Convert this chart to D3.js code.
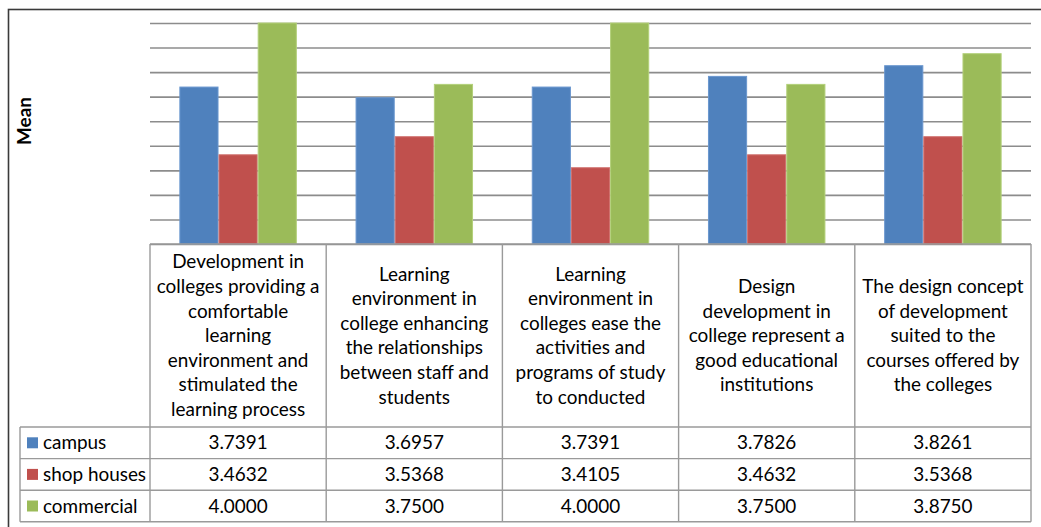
<!DOCTYPE html>
<html><head><meta charset="utf-8">
<script src="https://cdn.jsdelivr.net/npm/d3@7"></script>
<style>body{margin:0;background:#fff}svg{display:block}</style></head>
<body>
<svg id="c" width="1041" height="527"></svg>
<script>
// ---- data ----
const categories = [
  ["Development in","colleges providing a","comfortable","learning","environment and","stimulated the","learning process"],
  ["Learning","environment in","college enhancing","the relationships","between staff and","students"],
  ["Learning","environment in","colleges ease the","activities and","programs of study","to conducted"],
  ["Design","development in","college represent a","good educational","institutions"],
  ["The design concept","of development","suited to the","courses offered by","the colleges"]
];
const seriesNames = ["campus","shop houses","commercial"];
const campus     = [3.7391, 3.6957, 3.7391, 3.7826, 3.8261];
const shopHouses = [3.4632, 3.5368, 3.4105, 3.4632, 3.5368];
const commercial = [4.0000, 3.7500, 4.0000, 3.7500, 3.8750];
const yTicks = [3.1, 3.2, 3.3, 3.4, 3.5, 3.6, 3.7, 3.8, 3.9, 4.0];
const yLabel = "Mean";

// ---- layout / style ----
const colors = ["#4F81BD", "#C0504D", "#9BBB59"];
const strokes = ["#6a97cf", "#cf6f6c", "#b3d07a"];
const FONT = "Lato, 'Open Sans', sans-serif";
const plot = {left: 150, right: 1031, top: 23, bottom: 244};
const tableLeft = 20, headerBottom = 427, rowH = 31.6;

const series = [campus, shopHouses, commercial];
const svg = d3.select("#c");

// fit font size to match reference text width
const probe = svg.append("text").attr("font-family", FONT).attr("font-size", 20).text("Development in");
const fs = 20 * 132 / probe.node().getComputedTextLength();
probe.remove();

// outer frame (extends past right/bottom edges)
svg.append("rect").attr("x", 8.5).attr("y", 9.5).attr("width", 1100).attr("height", 600)
  .attr("fill", "none").attr("stroke", "#3a3a3a").attr("stroke-width", 1.6);

const catIdx = d3.range(categories.length);
const x0 = d3.scaleBand().domain(catIdx).range([plot.left, plot.right]).padding(0);
const x1 = d3.scaleBand().domain(d3.range(series.length)).range([0, x0.bandwidth()])
  .paddingInner(0).paddingOuter(0.75);
const y = d3.scaleLinear().domain([3.1, 4.0]).range([plot.bottom, plot.top]);

// gridlines via axis
const grid = svg.append("g").attr("transform", `translate(${plot.left},0)`)
  .call(d3.axisLeft(y).tickValues(yTicks).tickSize(-(plot.right - plot.left)).tickFormat(""));
grid.select(".domain").remove();
grid.selectAll(".tick line").attr("stroke", "#8c8c8c").attr("stroke-width", 1.6);

// bars
const groups = svg.append("g").selectAll("g").data(catIdx).join("g")
  .attr("transform", c => `translate(${x0(c)},0)`);
groups.selectAll("rect").data(c => series.map((s, i) => ({i, v: s[c]}))).join("rect")
  .attr("x", d => x1(d.i) + 0.5)
  .attr("width", x1.bandwidth() - 1)
  .attr("y", d => y(d.v))
  .attr("height", d => plot.bottom - y(d.v))
  .attr("fill", d => colors[d.i])
  .attr("stroke", d => strokes[d.i]).attr("stroke-width", 1);

// y label
svg.append("text").attr("transform", `translate(31,121) rotate(-90)`)
  .attr("text-anchor", "middle").attr("font-family", FONT).attr("font-weight", "bold")
  .attr("font-size", fs).attr("fill", "#000").text(yLabel);

// data table
const tbl = svg.append("g");
const lineColor = "#9a9a9a", lw = 1.4;
const tableBottom = headerBottom + rowH * series.length;
// horizontal lines
tbl.append("line").attr("x1", plot.left).attr("x2", plot.right).attr("y1", plot.bottom).attr("y2", plot.bottom)
  .attr("stroke", lineColor).attr("stroke-width", lw);
d3.range(series.length + 1).forEach(r => {
  const yy = headerBottom + r * rowH;
  tbl.append("line").attr("x1", tableLeft).attr("x2", plot.right).attr("y1", yy).attr("y2", yy)
    .attr("stroke", lineColor).attr("stroke-width", lw);
});
// vertical lines
catIdx.concat([categories.length]).forEach(c => {
  const xx = c < categories.length ? x0(c) : plot.right;
  tbl.append("line").attr("x1", xx).attr("x2", xx).attr("y1", plot.bottom).attr("y2", tableBottom)
    .attr("stroke", lineColor).attr("stroke-width", lw);
});
tbl.append("line").attr("x1", tableLeft).attr("x2", tableLeft).attr("y1", headerBottom).attr("y2", tableBottom)
  .attr("stroke", lineColor).attr("stroke-width", lw);

// header text
const lineH = 24.6;
const headMid = (plot.bottom + headerBottom) / 2;
categories.forEach((lines, c) => {
  const t = tbl.append("text").attr("font-family", FONT).attr("font-size", fs).attr("fill", "#000")
    .attr("text-anchor", "middle");
  const y0 = headMid - (lines.length - 1) * lineH / 2;
  lines.forEach((ln, k) => {
    t.append("tspan").attr("x", x0(c) + x0.bandwidth() / 2).attr("y", y0 + k * lineH)
      .attr("dy", "0.35em").text(ln);
  });
});

// rows
series.forEach((s, i) => {
  const cy = headerBottom + i * rowH + rowH / 2;
  tbl.append("rect").attr("x", 27).attr("y", cy - 5.5).attr("width", 11).attr("height", 11)
    .attr("fill", colors[i]);
  tbl.append("text").attr("x", 43).attr("y", cy).attr("dy", "0.35em")
    .attr("font-family", FONT).attr("font-size", fs).attr("fill", "#000").text(seriesNames[i]);
  s.forEach((v, c) => {
    tbl.append("text").attr("x", x0(c) + x0.bandwidth() / 2).attr("y", cy).attr("dy", "0.35em")
      .attr("text-anchor", "middle").attr("font-family", FONT).attr("font-size", fs).attr("fill", "#000")
      .text(v.toFixed(4));
  });
});
</script>
</body></html>
